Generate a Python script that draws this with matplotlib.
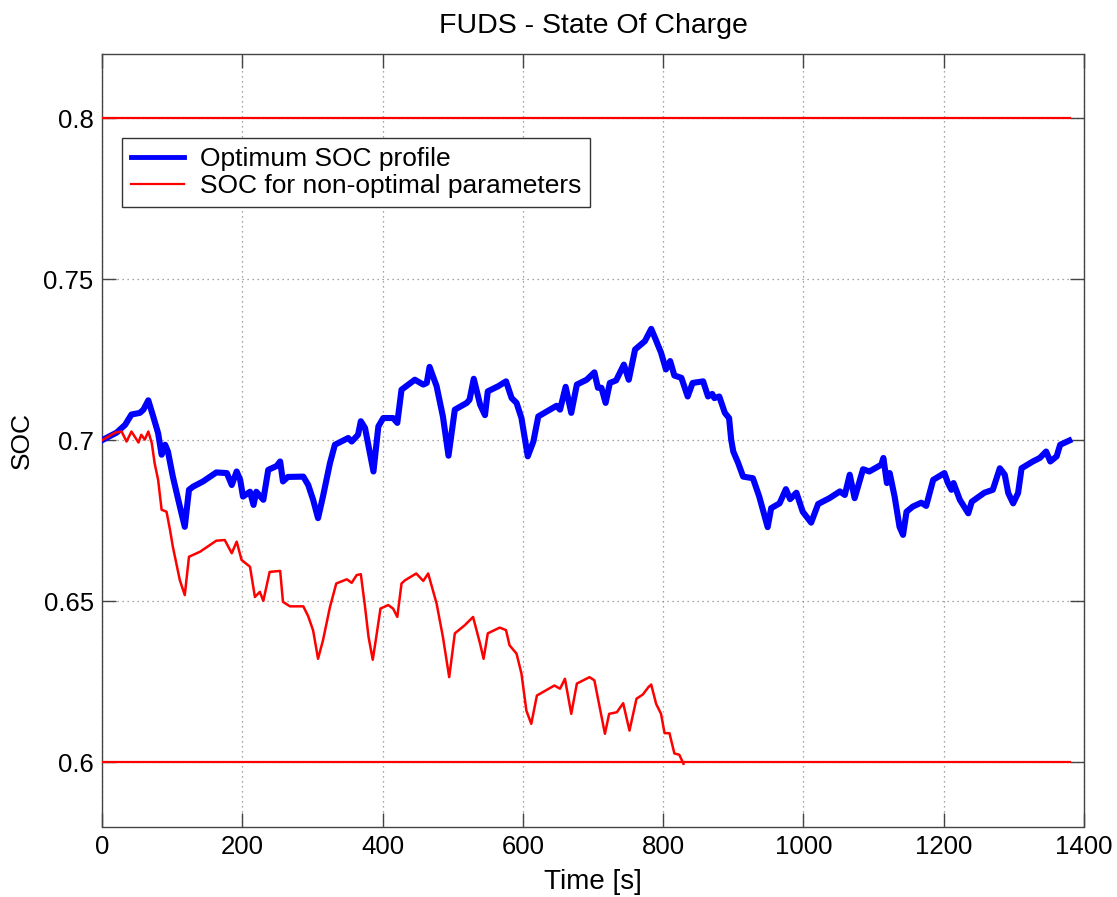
import matplotlib
matplotlib.use("Agg")
import matplotlib.pyplot as plt

plt.rcParams["font.family"] = ["Liberation Sans", "DejaVu Sans"]

# Optimum SOC profile (time [s], SOC)
opt_time = [0, 21, 33, 42, 54, 59, 66, 73, 80, 85, 90, 94, 101, 111, 118, 124, 130,
            144, 163, 178, 185, 192, 197, 201, 211, 216, 220, 230, 237, 249, 254, 258,
            265, 287, 294, 301, 308, 315, 325, 332, 351, 356, 365, 369, 375, 380, 387,
            394, 401, 415, 421, 427, 446, 458, 463, 467, 477, 486, 494, 503, 520, 524,
            530, 539, 546, 550, 565, 576, 584, 591, 598, 607, 615, 622, 648, 653, 661,
            669, 677, 691, 702, 707, 712, 718, 724, 733, 744, 751, 760, 774, 783, 789,
            797, 804, 810, 816, 826, 835, 842, 857, 864, 870, 873, 880, 888, 894, 897,
            900, 907, 914, 928, 937, 949, 954, 966, 975, 981, 990, 999, 1011, 1021,
            1037, 1052, 1059, 1066, 1073, 1085, 1094, 1111, 1114, 1119, 1123, 1130,
            1137, 1142, 1147, 1156, 1168, 1175, 1185, 1201, 1206, 1211, 1214, 1223,
            1235, 1240, 1258, 1270, 1280, 1287, 1292, 1299, 1306, 1311, 1327, 1337,
            1346, 1352, 1361, 1366, 1379]
opt_soc = [0.700, 0.7024, 0.7048, 0.708, 0.7085, 0.7095, 0.7124, 0.7074, 0.7022,
           0.6955, 0.6986, 0.6965, 0.6887, 0.6794, 0.6731, 0.6846, 0.6856, 0.6872,
           0.690, 0.6898, 0.6861, 0.6903, 0.6877, 0.6825, 0.684, 0.6799, 0.684,
           0.6815, 0.6908, 0.692, 0.6934, 0.6872, 0.6886, 0.6887, 0.6861, 0.6815,
           0.6758, 0.6825, 0.6929, 0.6986, 0.7007, 0.6996, 0.7017, 0.7059, 0.7038,
           0.6981, 0.6903, 0.7043, 0.7069, 0.7069, 0.7054, 0.7157, 0.7188, 0.7173,
           0.7178, 0.7228, 0.7168, 0.7074, 0.6952, 0.7095, 0.7116, 0.7126, 0.7191,
           0.7111, 0.7078, 0.7152, 0.7168, 0.7183, 0.7131, 0.7116, 0.7069, 0.695,
           0.6996, 0.7074, 0.7107, 0.7095, 0.7166, 0.7085, 0.7173, 0.7188, 0.7211,
           0.7163, 0.7163, 0.7116, 0.7178, 0.7186, 0.7235, 0.7188, 0.7282, 0.7308,
           0.7346, 0.7315, 0.7272, 0.722, 0.7246, 0.7201, 0.7194, 0.7136, 0.7178,
           0.7183, 0.7136, 0.7144, 0.7131, 0.7136, 0.7085, 0.7069, 0.7002, 0.6965,
           0.6929, 0.6887, 0.6882, 0.6825, 0.673, 0.6789, 0.6804, 0.6848, 0.6817,
           0.6837, 0.6778, 0.6744, 0.6802, 0.682, 0.6841, 0.683, 0.6893, 0.682,
           0.691, 0.6903, 0.6924, 0.6945, 0.6867, 0.6898, 0.6825, 0.6731, 0.6706,
           0.6778, 0.6794, 0.6806, 0.6796, 0.6877, 0.6898, 0.6867, 0.6846, 0.6867,
           0.6815, 0.6773, 0.6809, 0.6837, 0.6846, 0.6913, 0.6893, 0.6836, 0.6804,
           0.6836, 0.6913, 0.6934, 0.6945, 0.6965, 0.6934, 0.695, 0.6986, 0.6999]

# SOC with non-optimal parameters (time [s], SOC)
nonopt_time = [0, 19, 28, 35, 42, 52, 56, 61, 66, 71, 75, 80, 85, 92, 97, 101, 111,
               118, 124, 140, 163, 175, 185, 192, 199, 211, 218, 225, 230, 239, 254,
               258, 268, 287, 294, 301, 308, 315, 325, 334, 349, 356, 363, 369, 375,
               380, 386, 391, 397, 408, 415, 421, 427, 432, 448, 458, 465, 477, 486,
               495, 503, 517, 529, 539, 544, 550, 567, 576, 581, 591, 598, 605, 612,
               620, 645, 653, 660, 669, 677, 695, 702, 717, 723, 734, 743, 752, 762,
               771, 779, 783, 790, 797, 802, 809, 816, 823, 829]
nonopt_soc = [0.700, 0.7024, 0.7027, 0.6996, 0.7027, 0.6993, 0.7017, 0.7002, 0.7027,
              0.6991, 0.6929, 0.6877, 0.6784, 0.6778, 0.6721, 0.6669, 0.6565, 0.6519,
              0.6638, 0.6654, 0.6688, 0.669, 0.6649, 0.6685, 0.6628, 0.6607, 0.6513,
              0.6529, 0.6501, 0.6591, 0.6594, 0.6498, 0.6484, 0.6484, 0.6453, 0.6409,
              0.6321, 0.6378, 0.6482, 0.6555, 0.6568, 0.6557, 0.6581, 0.6584, 0.6482,
              0.6389, 0.6318, 0.6389, 0.6477, 0.6488, 0.6477, 0.6451, 0.6555, 0.6565,
              0.6586, 0.6563, 0.6586, 0.6493, 0.6389, 0.6264, 0.64, 0.6425, 0.6451,
              0.6368, 0.6321, 0.64, 0.6418, 0.641, 0.6363, 0.6337, 0.6275, 0.616,
              0.6119, 0.6207, 0.6238, 0.6228, 0.6259, 0.615, 0.6244, 0.6264, 0.6254,
              0.6088, 0.615, 0.6155, 0.6183, 0.6098, 0.6197, 0.621, 0.6233, 0.6241,
              0.6181, 0.615, 0.609, 0.609, 0.6027, 0.6023, 0.5995]

# SOC operating limits
limit_time = [0, 1380]
soc_upper = 0.8
soc_lower = 0.6

x_ticks = [0, 200, 400, 600, 800, 1000, 1200, 1400]
y_ticks = [0.6, 0.65, 0.7, 0.75, 0.8]
y_tick_labels = ["0.6", "0.65", "0.7", "0.75", "0.8"]

W, H = 1117, 897
fig = plt.figure(figsize=(W / 100, H / 100), dpi=100)
ax = fig.add_axes([102 / W, 1 - 826.5 / H, (1084 - 102) / W, (826.5 - 54) / H])

ax.plot(limit_time, [soc_upper, soc_upper], color="#ff0000", lw=1.6, zorder=3)
ax.plot(limit_time, [soc_lower, soc_lower], color="#ff0000", lw=1.6, zorder=3)
ax.plot(opt_time, opt_soc, color="#0000ff", lw=4.4, zorder=4,
        solid_joinstyle="round", label="Optimum SOC profile")
ax.plot(nonopt_time, nonopt_soc, color="#ff0000", lw=1.8, zorder=5,
        label="SOC for non-optimal parameters")

ax.set_xlim(0, 1400)
ax.set_ylim(0.58, 0.82)
ax.set_xticks(x_ticks)
ax.set_yticks(y_ticks)
ax.set_yticklabels(y_tick_labels)

ax.grid(True, color="#888888", linestyle=(0, (1, 3)), linewidth=0.9)
ax.tick_params(direction="in", length=10, width=1, color="#444444",
               top=True, right=True, labelsize=18.5, pad=6)
for s in ax.spines.values():
    s.set_color("#444444")
    s.set_linewidth(1.0)

ax.set_title("FUDS - State Of Charge", fontsize=20.5, pad=15)
ax.set_xlabel("Time [s]", fontsize=20, labelpad=7)
ax.set_ylabel("SOC", fontsize=19, labelpad=7)

leg = ax.legend(loc="upper left", bbox_to_anchor=(0.0204, 0.891), borderaxespad=0,
                fontsize=19, fancybox=False, framealpha=1, edgecolor="#333333",
                handlelength=2.0, handletextpad=0.6, borderpad=0.35,
                labelspacing=0.1)
leg.get_frame().set_linewidth(1.0)
leg.get_lines()[0].set_linewidth(3.5)
leg.get_lines()[1].set_linewidth(1.6)

fig.savefig("out.png", dpi=100)
